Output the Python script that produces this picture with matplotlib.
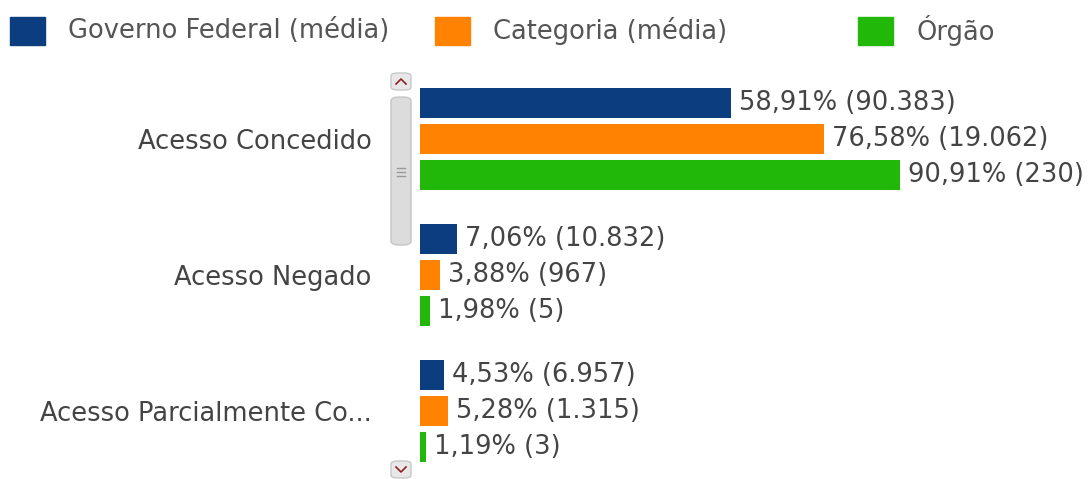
"""
Pedidos de acesso por tipo de resposta: Governo Federal x Categoria x Orgao.
"""
import matplotlib
matplotlib.use("Agg")
import matplotlib.pyplot as plt
from matplotlib.patches import Rectangle, FancyBboxPatch
from matplotlib.lines import Line2D
import numpy as np

# data
categories = ["Acesso Concedido", "Acesso Negado", "Acesso Parcialmente Co..."]
series = ["Governo Federal (média)", "Categoria (média)", "Órgão"]
governo_pct = [58.91, 7.06, 4.53]
governo_n = ["90.383", "10.832", "6.957"]
categoria_pct = [76.58, 3.88, 5.28]
categoria_n = ["19.062", "967", "1.315"]
orgao_pct = [90.91, 1.98, 1.19]
orgao_n = ["230", "5", "3"]

colors = ["#0B3D7F", "#FF8200", "#22B80A"]
W, H = 1089, 479
FS = 18.5


def fmt(p, n):
    return ("%.2f" % p).replace(".", ",") + "% (" + n + ")"


fig = plt.figure(figsize=(W / 100, H / 100), dpi=100)
ax = fig.add_axes([420 / W, 0, (W - 420) / W, 409 / H])

y = np.arange(len(categories))
offsets = [-0.265, 0.0, 0.265]
pcts = [governo_pct, categoria_pct, orgao_pct]
counts = [governo_n, categoria_n, orgao_n]
for k in range(3):
    bars = ax.barh(y + offsets[k], pcts[k], height=0.215, color=colors[k])
    for b, p, n in zip(bars, pcts[k], counts[k]):
        ax.annotate(fmt(p, n), (b.get_width(), b.get_y() + b.get_height() / 2),
                    xytext=(5.5, 0), textcoords="offset points",
                    va="center", ha="left", fontsize=FS, color="#444444")

ax.set_xlim(0, (W - 420) / 5.28)
ax.set_ylim(2.5, -0.507)
ax.set_yticks(y)
ax.set_yticklabels(categories, fontsize=FS, color="#444444")
ax.tick_params(axis="y", length=0, pad=35)
ax.set_xticks([])
for s in ax.spines.values():
    s.set_visible(False)

# legend drawn by hand
leg_x = [10, 435, 858]
for x0, lab, c in zip(leg_x, series, colors):
    fig.patches.append(Rectangle((x0 / W, (H - 45) / H), 35 / W, 28 / H,
                                 transform=fig.transFigure, color=c))
    fig.text((x0 + 58) / W, (H - 31) / H, lab, fontsize=FS,
             color="#555555", va="center", ha="left")

# scrollbar
fig.patches.append(FancyBboxPatch((391 / W, (H - 245) / H), 20 / W, 148 / H,
                                  boxstyle="round,pad=0,rounding_size=0.008",
                                  transform=fig.transFigure,
                                  facecolor="#DCDCDC", edgecolor="#C4C4C4"))
for yy in [H - 90, 1]:
    fig.patches.append(FancyBboxPatch((391 / W, yy / H), 20 / W, 17 / H,
                                      boxstyle="round,pad=0,rounding_size=0.006",
                                      transform=fig.transFigure,
                                      facecolor="#E8E8E8", edgecolor="#C8C8C8"))
# chevrons on the scroll buttons
fig.lines.append(Line2D([396 / W, 401 / W, 406 / W],
                        [(H - 84) / H, (H - 79) / H, (H - 84) / H],
                        transform=fig.transFigure, color="#8B2020", lw=1.2))
fig.lines.append(Line2D([396 / W, 401 / W, 406 / W],
                        [12 / H, 7 / H, 12 / H],
                        transform=fig.transFigure, color="#8B2020", lw=1.2))
for yy in [H - 168, H - 172, H - 176]:
    fig.lines.append(Line2D([397 / W, 405 / W], [yy / H, yy / H],
                            transform=fig.transFigure, color="#999999", lw=1))

fig.savefig("out.png", dpi=100)
